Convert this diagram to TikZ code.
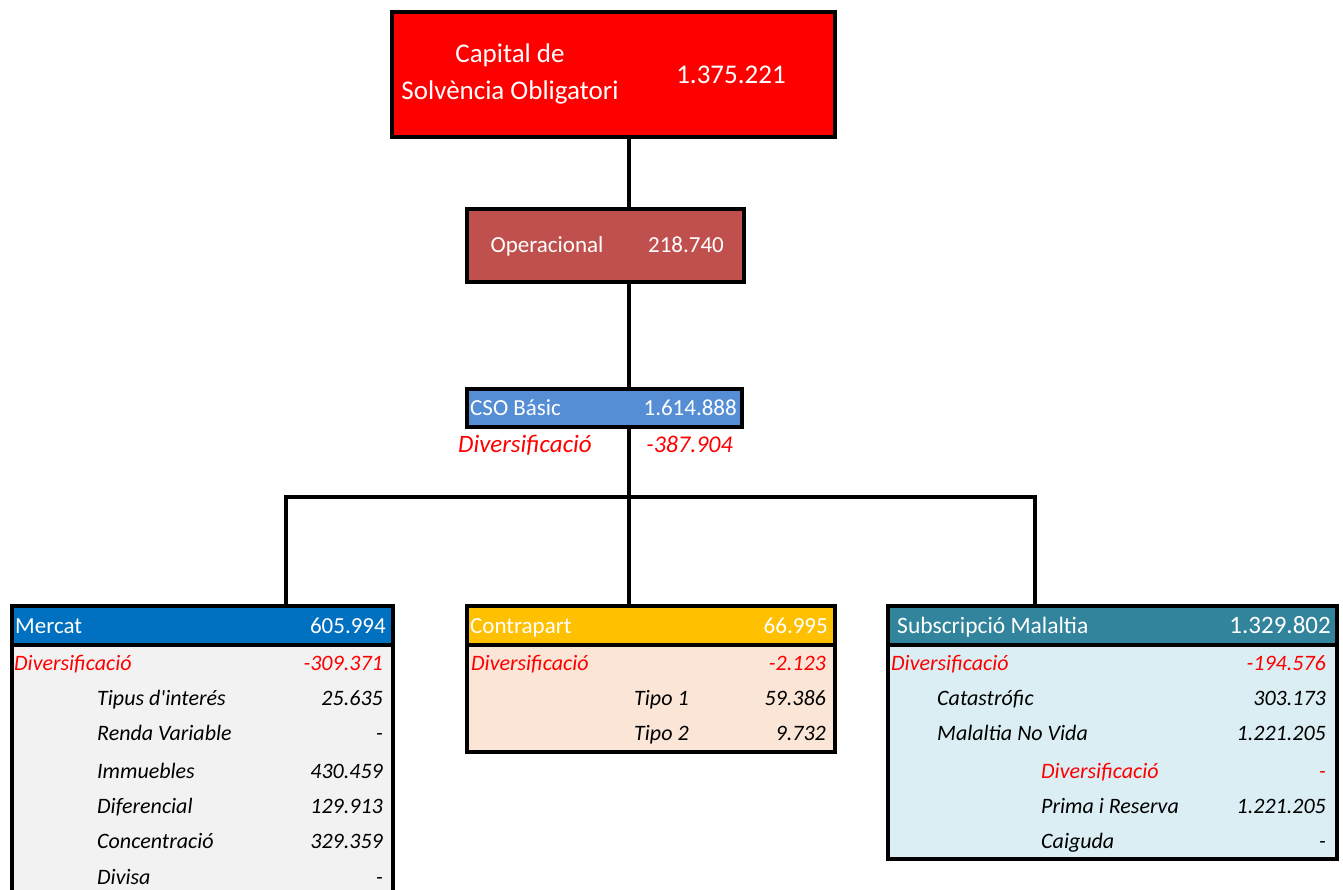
\documentclass[tikz,border=0pt]{standalone}
\usepackage{fontspec}
\setmainfont{Carlito}
\definecolor{scrred}{HTML}{FF0000}
\definecolor{operred}{HTML}{C0504D}
\definecolor{csoblue}{HTML}{558ED5}
\definecolor{mercblue}{HTML}{0070C0}
\definecolor{mercgrey}{HTML}{F2F2F2}
\definecolor{contraorange}{HTML}{FFC000}
\definecolor{contrapeach}{HTML}{FBE5D6}
\definecolor{substeal}{HTML}{31849B}
\definecolor{subslight}{HTML}{DAEEF3}
\definecolor{divred}{HTML}{FF0000}
\tikzset{
  box/.style={draw=black, line width=3.5pt, inner sep=0pt, anchor=north west},
  link/.style={line width=4.5pt, black},
  hd/.style={inner sep=0pt, text=white, text height=19pt, text depth=2pt,
    font=\fontsize{23}{27}\selectfont},
  lbl/.style={inner sep=0pt, anchor=west, text height=19pt, text depth=2pt,
    font=\fontsize{22}{26}\selectfont\itshape},
  val/.style={inner sep=0pt, anchor=east, text height=19pt, text depth=2pt,
    font=\fontsize{22}{26}\selectfont\itshape},
  neg/.style={text=divred},
}
\begin{document}
\begin{tikzpicture}[x=1pt,y=-1pt]
\useasboundingbox (0,0) rectangle (1343,889);

% top of the tree
\node[box, fill=scrred, minimum width=443pt, minimum height=125pt] (scr) at (390,10) {};
\node[hd, text height=, text depth=, font=\fontsize{27}{37}\selectfont, align=center] (scrlbl) at (510,74) {Capital de\\Solvència Obligatori};
\node[hd, font=\fontsize{27}{33}\selectfont] (scrval) at (731,75) {1.375.221};

\node[box, fill=operred, minimum width=277pt, minimum height=73pt] (oper) at (465,207) {};
\node[hd] (operlbl) at (547,244) {Operacional};
\node[hd] (operval) at (686,244) {218.740};

\node[box, fill=csoblue, minimum width=275pt, minimum height=38pt] (cso) at (465,387) {};
\node[hd, anchor=west] (csolbl) at (470,407) {CSO Básic};
\node[hd, anchor=east] (csoval) at (737,407) {1.614.888};
\node[lbl, neg, font=\fontsize{25}{29}\selectfont\itshape] (csodivlbl) at (458,444) {Diversificació};
\node[val, neg, font=\fontsize{24}{28}\selectfont\itshape] (csodivval) at (733,444) {-387.904};

% connectors
\coordinate (bus) at (629,497);
\coordinate (mercin) at (286,604);
\coordinate (subsin) at (1035,604);
\draw[link] (bus |- scr.south) -- (bus |- oper.north);
\draw[link] (bus |- oper.south) -- (bus |- cso.north);
\draw[link] (bus |- cso.south) -- (bus);
\draw[link] (mercin) |- (bus) -| (subsin);
\draw[link] (bus) -- (bus |- 0,604);

% Mercat
\node[box, fill=mercgrey, minimum width=381pt, minimum height=260pt] (mercbody) at (10,643) {};
\node[box, fill=mercblue, minimum width=381pt, minimum height=39pt] (merc) at (10,604) {};
\node[hd, anchor=west] (merclbl) at (15,625) {Mercat};
\node[hd, anchor=east] (mercval) at (386,625) {605.994};
\node[lbl, neg] (mercdivlbl) at (14,662) {Diversificació};
\node[val, neg] (mercdivval) at (383,662) {-309.371};
\foreach \y/\l/\v [count=\i] in {697/Tipus d\textquotesingle interés/25.635, 732/Renda Variable/-,
  770/Immuebles/430.459, 805/Diferencial/129.913, 840/Concentració/329.359, 876/Divisa/-} {
  \node[lbl] (mercrow\i) at (97,\y) {\l};
  \node[val] (mercnum\i) at (383,\y) {\v};
}

% Contrapart
\node[box, fill=contrapeach, minimum width=368pt, minimum height=107pt] (contrabody) at (465,643) {};
\node[box, fill=contraorange, minimum width=368pt, minimum height=39pt] (contra) at (465,604) {};
\node[hd, anchor=west] (contralbl) at (470,625) {Contrapart};
\node[hd, anchor=east] (contraval) at (828,625) {66.995};
\node[lbl, neg] (contradivlbl) at (471,662) {Diversificació};
\node[val, neg] (contradivval) at (826,662) {-2.123};
\node[lbl] (contrarow1) at (634,697) {Tipo 1};
\node[val] (contranum1) at (826,697) {59.386};
\node[lbl] (contrarow2) at (634,732) {Tipo 2};
\node[val] (contranum2) at (826,732) {9.732};

% Subscripcio Malaltia
\node[box, fill=subslight, minimum width=449pt, minimum height=214pt] (subsbody) at (886,643) {};
\node[box, fill=substeal, minimum width=449pt, minimum height=39pt] (subs) at (886,604) {};
\node[hd, anchor=west, font=\fontsize{23.5}{27}\selectfont] (subslbl) at (897,625) {Subscripció Malaltia};
\node[hd, anchor=east, font=\fontsize{25}{29}\selectfont] (subsval) at (1331,625) {1.329.802};
\node[lbl, neg] (subsdivlbl) at (891,662) {Diversificació};
\node[val, neg] (subsdivval) at (1326,662) {-194.576};
\node[lbl] (subsrow1) at (937,697) {Catastrófic};
\node[val] (subsnum1) at (1326,697) {303.173};
\node[lbl] (subsrow2) at (937,732) {Malaltia No Vida};
\node[val] (subsnum2) at (1326,732) {1.221.205};
\node[lbl, neg] (subsdivlbl2) at (1041,770) {Diversificació};
\node[val, neg] (subsdivval2) at (1326,770) {-};
\node[lbl] (subsrow3) at (1041,805) {Prima i Reserva};
\node[val] (subsnum3) at (1326,805) {1.221.205};
\node[lbl] (subsrow4) at (1041,840) {Caiguda};
\node[val] (subsnum4) at (1326,840) {-};

\end{tikzpicture}
\end{document}
